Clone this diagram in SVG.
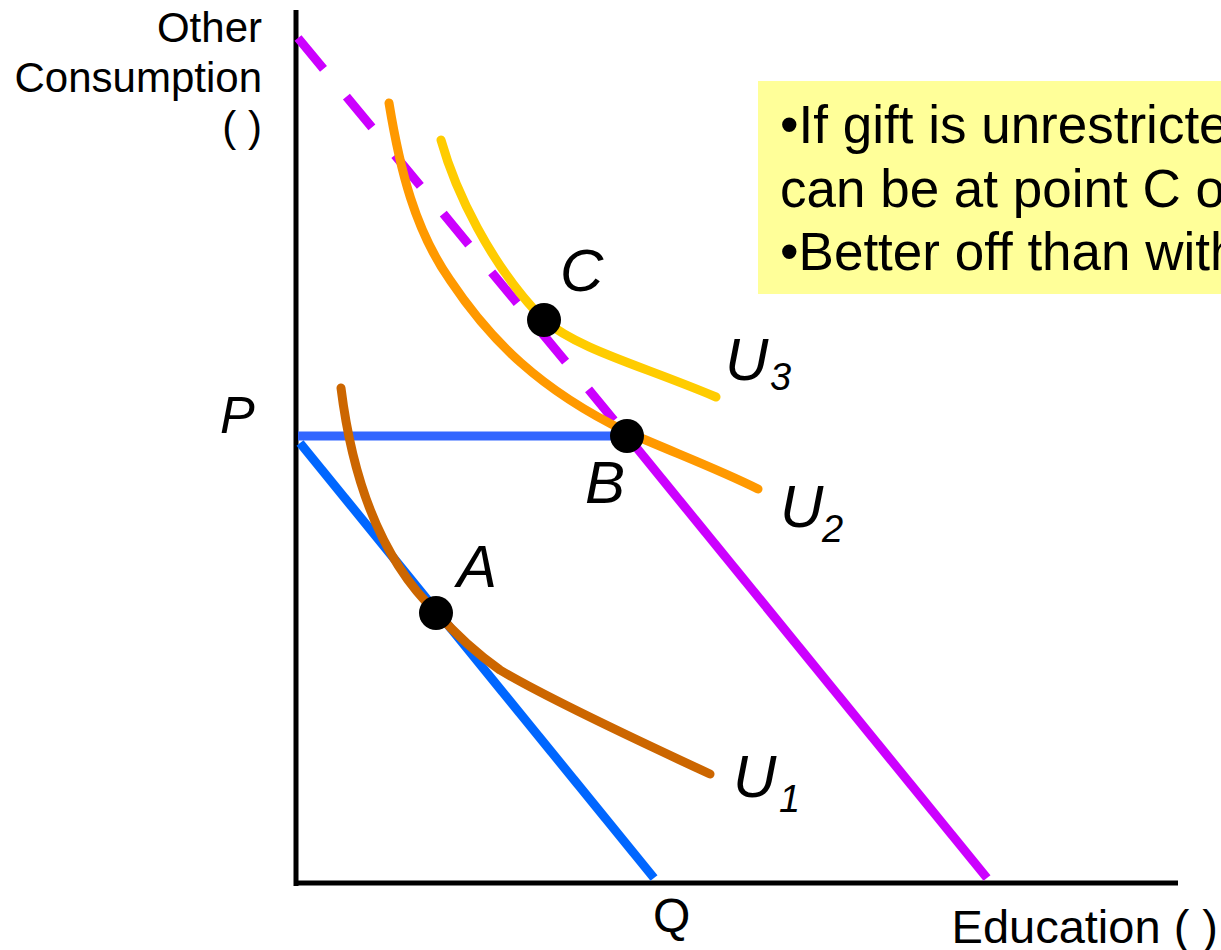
<svg xmlns="http://www.w3.org/2000/svg" width="1221" height="950" viewBox="0 0 1221 950">
<style>
text{font-family:"Liberation Sans",Arial,sans-serif;fill:#000}
.it{font-style:italic;font-size:60px}
.sub{font-style:italic;font-size:38px}
.ax{font-size:42px}
.box{font-size:53px}
.curve{fill:none;stroke-width:9;stroke-linecap:round;stroke-linejoin:round}
.dot{fill:#000}
</style>
<rect width="1221" height="950" fill="#fff"/>
<g id="note">
<rect x="758" y="81" width="463" height="213" fill="#FFFF99"/>
<text class="box" x="780" y="143">•If gift is unrestricte</text>
<text class="box" x="780" y="207">can be at point C o</text>
<text class="box" x="780" y="270">•Better off than with</text>
</g>
<g id="axes">
<line x1="296" y1="10" x2="296" y2="886" stroke="#000" stroke-width="5"/>
<line x1="294" y1="883" x2="1178" y2="883" stroke="#000" stroke-width="5"/>
<text class="ax" x="262" y="42" text-anchor="end">Other</text>
<text class="ax" x="262" y="92" text-anchor="end">Consumption</text>
<text class="ax" x="262" y="141" text-anchor="end">( )</text>
<text x="1218" y="943" text-anchor="end" style="font-size:47px">Education ( )</text>
</g>
<g id="connectors">
<line x1="298" y1="38" x2="627" y2="436" stroke="#CC00FF" stroke-width="9" stroke-dasharray="40 36"/>
<line x1="627" y1="436" x2="987" y2="878" stroke="#CC00FF" stroke-width="9"/>
<line x1="298" y1="436" x2="627" y2="436" stroke="#3366FF" stroke-width="9"/>
<line x1="300" y1="443" x2="654" y2="878" stroke="#0066FF" stroke-width="9"/>
</g>
<g id="U1">
<path class="curve" stroke="#CC6600" d="M341,388 Q360,540 437,613 Q465,645 500,670 Q550,700 710,774"/>
<text class="it" x="733" y="797">U</text><text class="sub" x="779" y="812">1</text>
</g>
<g id="U2">
<path class="curve" stroke="#FF9900" d="M389,103 C400,170 415,230 450,280 C490,340 540,390 627,432 C680,455 720,470 758,489"/>
<text class="it" x="780" y="527">U</text><text class="sub" x="822" y="542">2</text>
</g>
<g id="U3">
<path class="curve" stroke="#FFCC00" d="M441,140 C455,190 490,265 544,320 C580,350 640,365 716,397"/>
<text class="it" x="725" y="380">U</text><text class="sub" x="770" y="390">3</text>
</g>
<g id="P"><text x="220" y="433" style="font-size:52px;font-style:italic">P</text></g>
<g id="Q"><text x="653" y="932" style="font-size:48px">Q</text></g>
<g id="A"><circle class="dot" cx="436" cy="613" r="17"/><text class="it" x="457" y="587">A</text></g>
<g id="B"><circle class="dot" cx="627" cy="436" r="17"/><text class="it" x="585" y="503">B</text></g>
<g id="C"><circle class="dot" cx="544" cy="320" r="17"/><text class="it" x="560" y="291">C</text></g>
</svg>
